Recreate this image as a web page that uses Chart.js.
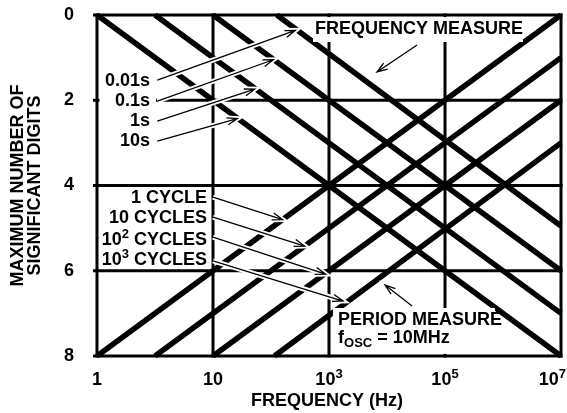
<!DOCTYPE html>
<html><head><meta charset="utf-8">
<script src="https://cdn.jsdelivr.net/npm/chart.js@4.4.1/dist/chart.umd.min.js"></script>
<style>html,body{margin:0;padding:0;background:#fff;}canvas{display:block;}</style>
</head><body>
<canvas id="c" width="567" height="413"></canvas>
<script>
// ---------- data ----------
// x axis: positions of the (unevenly spaced) frequency labels
const xTickPositions = [0, 1, 2, 3, 4];
const xTickBase = ['1', '10', '10', '10', '10'];
const xTickSup = ['', '', '3', '5', '7'];
const yTicks = [0, 2, 4, 6, 8];

// frequency-measure lines (gate times)
const gateLabels = ['0.01s', '0.1s', '1s', '10s'];
const freqGate001 = [{x: 1.55, y: 0}, {x: 4, y: 4.95}];
const freqGate01 = [{x: 1.0, y: 0}, {x: 4, y: 6}];
const freqGate1 = [{x: 0.5, y: 0}, {x: 4, y: 7}];
const freqGate10 = [{x: 0, y: 0}, {x: 4, y: 8}];

// period-measure lines (cycles)
const cycleBase = ['1 CYCLE', '10 CYCLES', '10', '10'];
const cycleSup = ['', '', '2', '3'];
const cycleRest = ['', '', ' CYCLES', ' CYCLES'];
const period1 = [{x: 0, y: 8}, {x: 4, y: 0}];
const period10 = [{x: 0.5, y: 8}, {x: 4, y: 1}];
const period100 = [{x: 1.0, y: 8}, {x: 4, y: 2}];
const period1000 = [{x: 1.53, y: 8}, {x: 4, y: 3}];

// annotation anchors (data units)
const gateLabelPos = [[0.457, 1.55], [0.457, 2.02], [0.457, 2.49], [0.457, 2.96]];
const gateArrowFrom = [[0.52, 1.53], [0.52, 2.02], [0.52, 2.49], [0.52, 2.96]];
const gateArrowTo = [[1.71, 0.36], [1.52, 1.05], [1.36, 1.74], [1.21, 2.43]];
const cycleLabelPos = [[0.948, 4.29], [0.948, 4.76], [0.948, 5.28], [0.948, 5.75]];
const cycleArrowFrom = [[1.0, 4.27], [1.0, 4.74], [1.0, 5.21], [1.0, 5.77]];
const cycleArrowTo = [[1.60, 4.80], [1.79, 5.42], [1.97, 6.08], [2.12, 6.71]];

const FONT = '"Liberation Sans", Arial, Helvetica, sans-serif';
const fN = 'bold 18px ' + FONT;
const fS = 'bold 13px ' + FONT;

function measure(ctx, parts) {
  let w = 0;
  parts.forEach(p => { ctx.font = p[1] === 'n' ? fN : fS; w += ctx.measureText(p[0]).width; });
  return w;
}
function rich(ctx, parts, x, y, align) {
  const w = measure(ctx, parts);
  let cx = align === 'right' ? x - w : (align === 'center' ? x - w / 2 : x);
  ctx.textAlign = 'left'; ctx.textBaseline = 'middle'; ctx.fillStyle = '#000';
  parts.forEach(p => {
    ctx.font = p[1] === 'n' ? fN : fS;
    const dy = p[1] === 'sup' ? -6 : (p[1] === 'sub' ? 5 : 0);
    ctx.fillText(p[0], cx, y + dy);
    cx += ctx.measureText(p[0]).width;
  });
}

function arrowPath(ctx, x1, y1, x2, y2) {
  const ang = Math.atan2(y2 - y1, x2 - x1), L = 11, A = 0.33;
  ctx.beginPath();
  ctx.moveTo(x1, y1); ctx.lineTo(x2, y2);
  ctx.moveTo(x2 - L * Math.cos(ang - A), y2 - L * Math.sin(ang - A));
  ctx.lineTo(x2, y2);
  ctx.lineTo(x2 - L * Math.cos(ang + A), y2 - L * Math.sin(ang + A));
}
function arrow(ctx, x1, y1, x2, y2) {
  ctx.save();
  ctx.lineJoin = 'miter'; ctx.lineCap = 'butt';
  ctx.strokeStyle = '#fff'; ctx.lineWidth = 5;
  arrowPath(ctx, x1, y1, x2, y2); ctx.stroke();
  ctx.strokeStyle = '#000'; ctx.lineWidth = 1.3;
  arrowPath(ctx, x1, y1, x2, y2); ctx.stroke();
  ctx.restore();
}

const annot = {
  id: 'annot',
  beforeDatasetsDraw(chart) {
    const {ctx, chartArea: a, scales: {x, y}} = chart;
    ctx.save();
    ctx.strokeStyle = '#000'; ctx.lineWidth = 3; ctx.lineCap = 'butt';
    xTickPositions.forEach(v => {
      const px = x.getPixelForValue(v);
      ctx.beginPath(); ctx.moveTo(px, a.top - 1.5); ctx.lineTo(px, a.bottom + 1.5); ctx.stroke();
    });
    yTicks.forEach(v => {
      const py = y.getPixelForValue(v);
      ctx.beginPath(); ctx.moveTo(a.left - 4, py); ctx.lineTo(a.right + 1.5, py); ctx.stroke();
    });
    ctx.restore();
  },
  afterDatasetsDraw(chart) {
    const {ctx, chartArea: a, scales: {x, y}} = chart;
    const X = v => x.getPixelForValue(v), Y = v => y.getPixelForValue(v);
    ctx.save();
    ctx.fillStyle = '#fff';
    // white boxes behind region labels
    ctx.fillRect(X(1.862), Y(0.05), X(3.672) - X(1.862), Y(0.633) - Y(0.05));
    ctx.fillRect(X(2.034), Y(6.874), X(3.431) - X(2.034), Y(7.95) - Y(6.874));
    // white boxes behind left labels
    gateLabelPos.forEach(p => { ctx.fillStyle = '#fff'; ctx.fillRect(a.left + 2.5, Y(p[1]) - 8, X(p[0]) + 6 - a.left - 2.5, 16); });
    cycleLabelPos.forEach(p => { ctx.fillStyle = '#fff'; ctx.fillRect(a.left + 2.5, Y(p[1]) - 8, X(p[0]) + 2 - a.left - 2.5, 16); });

    // gate labels & arrows
    gateLabels.forEach((t, i) => {
      rich(ctx, [[t, 'n']], X(gateLabelPos[i][0]), Y(gateLabelPos[i][1]), 'right');
      arrow(ctx, X(gateArrowFrom[i][0]), Y(gateArrowFrom[i][1]), X(gateArrowTo[i][0]), Y(gateArrowTo[i][1]));
    });
    cycleBase.forEach((t, i) => {
      const parts = [[t, 'n']];
      if (cycleSup[i]) parts.push([cycleSup[i], 'sup']);
      if (cycleRest[i]) parts.push([cycleRest[i], 'n']);
      rich(ctx, parts, X(cycleLabelPos[i][0]), Y(cycleLabelPos[i][1]), 'right');
      arrow(ctx, X(cycleArrowFrom[i][0]), Y(cycleArrowFrom[i][1]), X(cycleArrowTo[i][0]), Y(cycleArrowTo[i][1]));
    });

    // region labels
    rich(ctx, [['FREQUENCY MEASURE', 'n']], X(2.776), Y(0.33), 'center');
    arrow(ctx, X(2.759), Y(0.704), X(2.414), Y(1.337));
    rich(ctx, [['PERIOD MEASURE', 'n']], X(2.078), Y(7.155), 'left');
    rich(ctx, [['f', 'n'], ['OSC', 'sub'], [' = 10MHz', 'n']], X(2.078), Y(7.578), 'left');
    arrow(ctx, X(2.716), Y(6.827), X(2.483), Y(6.334));

    // x tick labels
    xTickPositions.forEach((v, i) => {
      const parts = [[xTickBase[i], 'n']];
      if (xTickSup[i]) parts.push([xTickSup[i], 'sup']);
      const w = measure(ctx, parts);
      const cxl = Math.min(X(v), chart.width - w / 2 - 1);
      rich(ctx, parts, cxl, a.bottom + 24, 'center');
    });
    // axis titles
    rich(ctx, [['FREQUENCY (Hz)', 'n']], (a.left + a.right) / 2 - 2, a.bottom + 45, 'center');
    ctx.save();
    ctx.translate(18, (a.top + a.bottom) / 2);
    ctx.rotate(-Math.PI / 2);
    rich(ctx, [['MAXIMUM NUMBER OF', 'n']], 0, 0, 'center');
    rich(ctx, [['SIGNIFICANT DIGITS', 'n']], 0, 17, 'center');
    ctx.restore();
    ctx.restore();
  }
};

const lineDs = (label, data) => ({
  label, data, showLine: true, borderColor: '#000', borderWidth: 5.5,
  pointRadius: 0, pointHoverRadius: 0, fill: false, clip: false, tension: 0
});

new Chart(document.getElementById('c'), {
  type: 'scatter',
  data: {
    datasets: [
      lineDs('0.01s', freqGate001), lineDs('0.1s', freqGate01),
      lineDs('1s', freqGate1), lineDs('10s', freqGate10),
      lineDs('1 cycle', period1), lineDs('10 cycles', period10),
      lineDs('100 cycles', period100), lineDs('1000 cycles', period1000)
    ]
  },
  options: {
    responsive: false, animation: false, devicePixelRatio: 1,
    layout: {padding: {top: 15, right: 6, left: 0, bottom: 0}},
    plugins: {legend: {display: false}, tooltip: {enabled: false}},
    scales: {
      x: {
        type: 'linear', min: 0, max: 4,
        ticks: {display: false, stepSize: 1},
        grid: {display: false}, border: {display: false},
        afterFit: s => { s.height = 57; s.paddingLeft = 0; s.paddingRight = 0; s.paddingTop = 0; s.paddingBottom = 0; }
      },
      y: {
        type: 'linear', min: 0, max: 8, reverse: true,
        ticks: {stepSize: 2, color: '#000', padding: 15, font: {family: FONT, size: 18, weight: 'bold'}},
        grid: {display: false}, border: {display: false},
        afterFit: s => { s.width = 97; s.paddingTop = 0; s.paddingBottom = 0; s.paddingLeft = 0; s.paddingRight = 0; }
      }
    }
  },
  plugins: [annot]
});
</script>
</body></html>
